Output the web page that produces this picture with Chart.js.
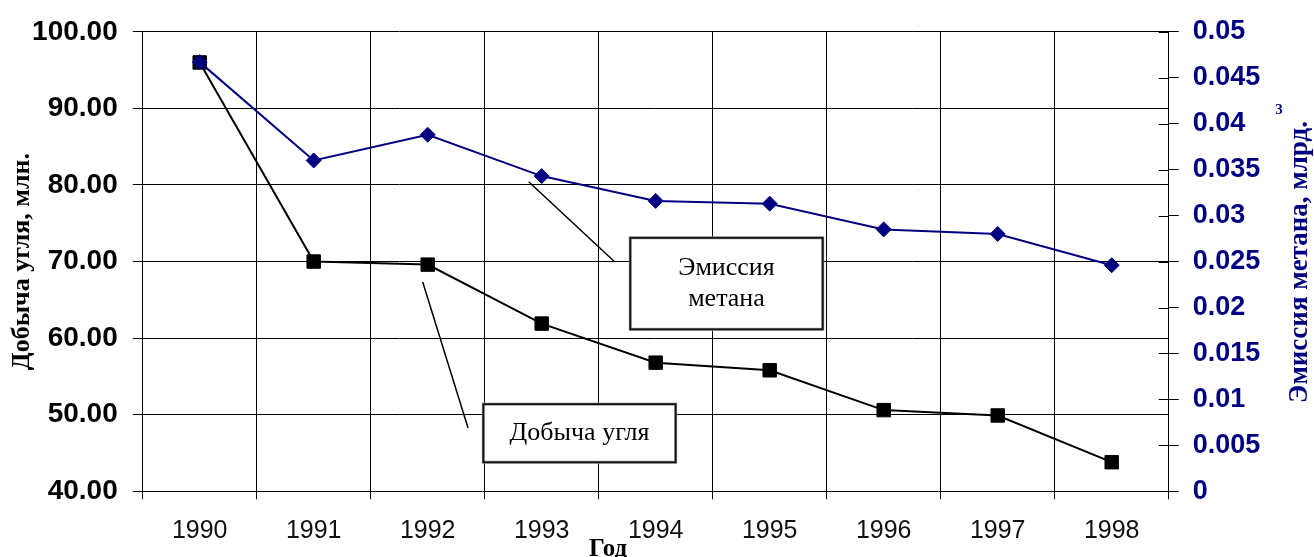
<!DOCTYPE html>
<html><head><meta charset="utf-8">
<script src="https://cdn.jsdelivr.net/npm/chart.js@4/dist/chart.umd.min.js"></script>
<style>html,body{margin:0;padding:0;background:#fff;overflow:hidden}#wrap{width:1314px;height:557px;position:relative}</style>
</head><body><div id="wrap"><canvas id="c"></canvas></div>
<script>
// ---- data ----
const years = ['1990','1991','1992','1993','1994','1995','1996','1997','1998'];
const coalOutput = [96.0, 70.0, 69.6, 61.9, 56.8, 55.8, 50.6, 49.9, 43.8];
const methaneEmission = [0.0467, 0.0360, 0.0388, 0.0343, 0.0316, 0.0313, 0.0285, 0.0280, 0.0246];
const leftTickValues = [40, 50, 60, 70, 80, 90, 100];
const rightTickValues = [0, 0.005, 0.01, 0.015, 0.02, 0.025, 0.03, 0.035, 0.04, 0.045, 0.05];
const leftAxisTitle = 'Добыча угля, млн.';
const rightAxisTitle = 'Эмиссия метана, млрд.';
const rightAxisSup = '3';
const xAxisTitle = 'Год';
const methaneLabel = ['Эмиссия', 'метана'];
const coalLabel = ['Добыча угля'];

const NAVY = '#000080';
const SERIF = "'Liberation Serif','Times New Roman',serif";
const SANS = "'Liberation Sans',Arial,sans-serif";

// annotation geometry in data space (x = category index, y = left-axis value)
const annotations = [
  {lines: methaneLabel, box: [3.777, 73.1, 5.465, 61.15], leader: [2.886, 80.42, 3.637, 70.0], lineGap: 31},
  {lines: coalLabel, box: [2.488, 51.38, 4.175, 43.79], leader: [1.956, 67.32, 2.354, 48.27], lineGap: 31}
];

const extras = {
  id: 'extras',
  afterDatasetsDraw(chart) {
    const ctx = chart.ctx, xs = chart.scales.x, ys = chart.scales.y, yr = chart.scales.y1;
    ctx.save();
    // inner tick marks of right axis
    ctx.strokeStyle = '#000'; ctx.lineWidth = 1;
    rightTickValues.forEach(v => {
      const py = Math.round(yr.getPixelForValue(v)) + 0.5;
      ctx.beginPath(); ctx.moveTo(yr.left - 10, py); ctx.lineTo(yr.left, py); ctx.stroke();
    });
    // annotations
    annotations.forEach(a => {
      const x1 = xs.getPixelForValue(a.leader[0]), y1 = ys.getPixelForValue(a.leader[1]);
      const x2 = xs.getPixelForValue(a.leader[2]), y2 = ys.getPixelForValue(a.leader[3]);
      ctx.strokeStyle = '#000'; ctx.lineWidth = 1.5;
      ctx.beginPath(); ctx.moveTo(x1, y1); ctx.lineTo(x2, y2); ctx.stroke();
      const bl = xs.getPixelForValue(a.box[0]), bt = ys.getPixelForValue(a.box[1]);
      const br = xs.getPixelForValue(a.box[2]), bb = ys.getPixelForValue(a.box[3]);
      ctx.fillStyle = '#fff';
      ctx.fillRect(bl, bt, br - bl, bb - bt);
      ctx.strokeStyle = '#999'; ctx.lineWidth = 3;
      ctx.strokeRect(bl, bt, br - bl, bb - bt);
      ctx.strokeStyle = '#111'; ctx.lineWidth = 1.8;
      ctx.strokeRect(bl, bt, br - bl, bb - bt);
      ctx.fillStyle = '#000';
      ctx.font = '26px ' + SERIF;
      ctx.textAlign = 'center'; ctx.textBaseline = 'middle';
      const cx = (bl + br) / 2, cy = (bt + bb) / 2;
      const n = a.lines.length;
      a.lines.forEach((t, i) => {
        ctx.fillText(t, cx, cy + (i - (n - 1) / 2) * a.lineGap);
      });
    });
    // right axis title (reads bottom to top)
    ctx.fillStyle = NAVY;
    ctx.font = 'bold 27px ' + SERIF;
    ctx.save();
    ctx.translate(1300, 262);
    ctx.rotate(-Math.PI / 2);
    ctx.textAlign = 'center'; ctx.textBaseline = 'middle';
    ctx.fillText(rightAxisTitle, 0, 0);
    ctx.restore();
    ctx.font = 'bold 15px ' + SERIF;
    ctx.textAlign = 'center'; ctx.textBaseline = 'middle';
    ctx.fillText(rightAxisSup, 1279, 110);
    // x axis title
    ctx.fillStyle = '#000';
    ctx.font = 'bold 25px ' + SERIF;
    ctx.textAlign = 'center'; ctx.textBaseline = 'alphabetic';
    ctx.fillText(xAxisTitle, 608, 556);
    ctx.restore();
  }
};

new Chart(document.getElementById('c'), {
  type: 'line',
  data: {
    labels: years,
    datasets: [
      {
        label: 'Эмиссия метана', data: methaneEmission, yAxisID: 'y1',
        borderColor: NAVY, backgroundColor: NAVY, borderWidth: 2,
        pointStyle: 'rectRot', pointRadius: 7.5, pointBorderWidth: 1,
        pointBackgroundColor: NAVY, pointBorderColor: NAVY, tension: 0
      },
      {
        label: 'Добыча угля', data: coalOutput, yAxisID: 'y',
        borderColor: '#000', backgroundColor: '#000', borderWidth: 2,
        pointStyle: 'rect', pointRadius: 9.5, pointBorderWidth: 1,
        pointBackgroundColor: '#000', pointBorderColor: '#000', tension: 0
      }
    ]
  },
  options: {
    responsive: true, maintainAspectRatio: false, animation: false,
    devicePixelRatio: 1,
    layout: {padding: {top: 27.3, left: 0, right: 0, bottom: 0}},
    plugins: {legend: {display: false}, tooltip: {enabled: false}},
    scales: {
      x: {
        type: 'category', offset: true,
        grid: {offset: true, color: '#000', lineWidth: 1, tickLength: 8, drawTicks: true},
        border: {display: true, color: '#000', width: 1},
        ticks: {color: '#111', font: {family: SANS, size: 25}, padding: 17, maxRotation: 0, autoSkip: false},
        afterFit: s => { s.height = 557 - 491.3; }
      },
      y: {
        position: 'left', min: leftTickValues[0], max: leftTickValues[leftTickValues.length - 1],
        afterBuildTicks: s => { s.ticks = leftTickValues.map(v => ({value: v})); },
        grid: {color: '#000', lineWidth: 1, tickLength: 10},
        border: {display: true, color: '#000', width: 1},
        ticks: {color: '#000', font: {family: SANS, size: 28, weight: 'bold'}, padding: 15,
                callback: v => Number(v).toFixed(2)},
        title: {display: true, text: leftAxisTitle, color: '#000',
                font: {family: SERIF, size: 26, weight: 'bold'}, padding: {top: 7, bottom: 0}},
        afterFit: s => { s.width = 142.7; }
      },
      y1: {
        position: 'right', min: rightTickValues[0], max: rightTickValues[rightTickValues.length - 1],
        afterBuildTicks: s => { s.ticks = rightTickValues.map(v => ({value: v})); },
        grid: {drawOnChartArea: false, color: '#000', lineWidth: 1, tickLength: 10},
        border: {display: true, color: '#000', width: 1},
        ticks: {color: NAVY, font: {family: SANS, size: 27, weight: 'bold'}, padding: 14,
                callback: v => String(parseFloat(Number(v).toFixed(3)))},
        afterFit: s => { s.width = 1314 - 1168.7; }
      }
    }
  },
  plugins: [extras]
});
</script></body></html>
